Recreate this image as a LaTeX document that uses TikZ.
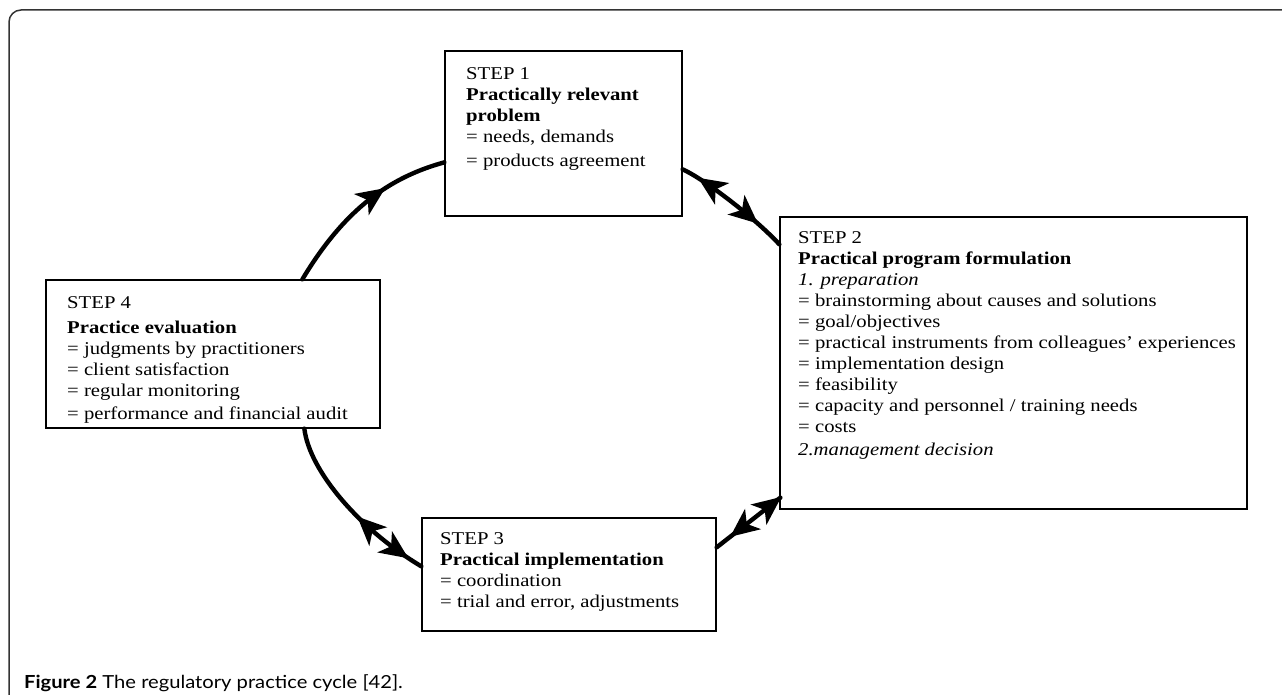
\documentclass[tikz,border=0pt]{standalone}
\usepackage{fontspec}
\setmainfont[FakeStretch=1.15]{Liberation Serif}
\newfontfamily\capfont[FakeStretch=1.12]{Lato}
\usetikzlibrary{decorations.markings,calc}
\begin{document}
\begin{tikzpicture}[x=1pt,y=-1pt,
  box/.style={draw, line width=1.3pt, rectangle, inner sep=0pt},
  txt/.style={anchor=north west, align=left, inner sep=0pt, font=\fontsize{18}{21}\selectfont},
  conn/.style={line width=4.4pt, line cap=round},
  fwdhead/.style={postaction={decorate, decoration={markings, mark=at position #1 with {\fill (7pt,0pt) -- (-22pt,-13pt) -- (-14pt,0pt) -- (-22pt,13pt) -- cycle;}}}},
  backhead/.style={postaction={decorate, decoration={markings, mark=at position #1 with {\fill (-7pt,0pt) -- (22pt,-13pt) -- (14pt,0pt) -- (22pt,13pt) -- cycle;}}}},
  frame/.style={draw=black!80, line width=1.5pt}
]
\useasboundingbox (0,0) rectangle (1282,695);
% frame
\draw[frame] (9,695) -- (9,22) arc[start angle=180, end angle=90, radius=12pt] -- (1282,10);

% boxes
\node[box, minimum width=237pt, minimum height=165pt] (b1) at (563.5,133.5) {};
\node[box, minimum width=467pt, minimum height=292pt] (b2) at (1013.5,363) {};
\node[box, minimum width=294pt, minimum height=113pt] (b3) at (569,574.5) {};
\node[box, minimum width=334pt, minimum height=148pt] (b4) at (213,354) {};

% texts
\node[txt] (t1) at (466,67) {STEP 1\\ \textbf{Practically relevant}\\ \textbf{problem}\\ = needs, demands\\[3pt] = products agreement};
\node[txt] (t2) at (798,231) {STEP 2\\ \textbf{Practical program formulation}\\ \textit{1. preparation}\\ = brainstorming about causes and solutions\\ = goal/objectives\\ = practical instruments from colleagues’ experiences\\ = implementation design\\ = feasibility\\ = capacity and personnel / training needs\\ = costs\\[2pt] \textit{2.management decision}};
\node[txt] (t3) at (440,532) {STEP 3\\ \textbf{Practical implementation}\\ = coordination\\ = trial and error, adjustments};
\node[txt] (t4) at (67,296) {STEP 4\\[4pt] \textbf{Practice evaluation}\\ = judgments by practitioners\\ = client satisfaction\\ = regular monitoring\\[2pt] = performance and financial audit};

% connectors
\coordinate (s1) at ($(b4.north west)+(257,0)$);
\coordinate (e1) at ($(b1.north west)+(0,112)$);
\draw[conn, fwdhead=0.62] (s1) .. controls +(42,-70) and +(-55,15) .. (e1);

\coordinate (s2) at ($(b1.north east)+(0,119)$);
\coordinate (e2) at ($(b2.north west)+(0,28)$);
\draw[conn, backhead=0.2, fwdhead=0.7] (s2) .. controls +(22,10) and +(-25,-27) .. (e2);

\coordinate (s3) at ($(b3.north east)+(0,30)$);
\coordinate (e3) at ($(b2.south west)+(1,-12)$);
\draw[conn, backhead=0.3, fwdhead=0.93] (s3) -- (e3);

\coordinate (s4) at ($(b4.south west)+(259,0)$);
\coordinate (e4) at ($(b3.north west)+(0,49)$);
\draw[conn, backhead=0.6, fwdhead=0.88] (s4) .. controls +(5,42) and +(-62,-37) .. (e4);

% caption
\node[anchor=base west, inner sep=0pt, font=\capfont\fontsize{18}{20}\selectfont] (cap) at (24,688) {\textbf{Figure 2} The regulatory practice cycle [42].};
\end{tikzpicture}
\end{document}
